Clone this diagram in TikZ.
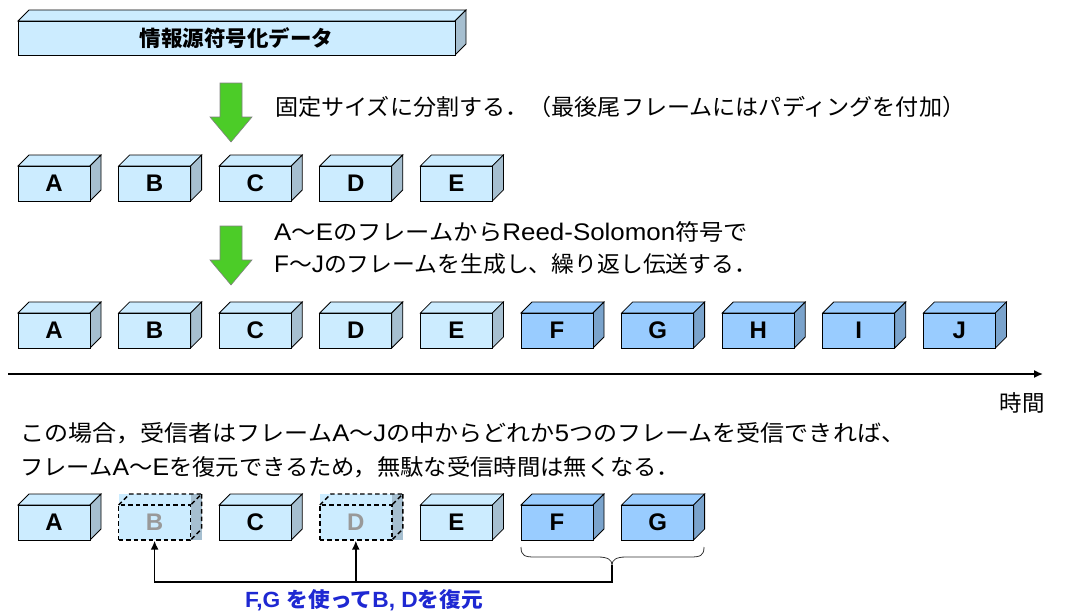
\documentclass[tikz,border=0pt]{standalone}
\usepackage{fontspec}
\usepackage{graphicx}
\setmainfont{Liberation Sans}
\newfontfamily\cjk{Noto Sans CJK JP}
\usetikzlibrary{arrows.meta}
\definecolor{lfront}{RGB}{204,236,255}
\definecolor{lside}{RGB}{166,191,208}
\definecolor{bfront}{RGB}{153,204,255}
\definecolor{bside}{RGB}{122,163,204}
\definecolor{agreen}{RGB}{76,204,40}
\definecolor{lblue}{RGB}{30,40,210}
\newcommand\jj[1]{{\fontsize{22.5}{24}\selectfont\cjk #1}}
\newcommand\fitw[2]{\resizebox{#1pt}{\height}{#2}}
\tikzset{
  cubefront/.style={draw=black,line width=0.8pt,minimum width=72pt,minimum height=35pt,inner sep=0pt,font=\fontsize{24}{26}\selectfont\bfseries},
  edge/.style={draw=black,line width=0.8pt},
  dashedge/.style={draw=black,line width=1.4pt,dash pattern=on 4.5pt off 3pt},
  jtext/.style={anchor=west,inner sep=0pt,font=\fontsize{24}{26}\selectfont},
  greenarrow/.style={fill=agreen,draw=gray,line width=0.6pt},
  connector/.style={draw=black,line width=1.5pt}
}
\newcommand\FrameCube[6]{%
  \filldraw[edge,fill=#5] (#2,#3) -- ++(11,-11) -- ++(72,0) -- ++(-11,11) -- cycle;
  \filldraw[edge,fill=#6] (#2+72,#3) -- ++(11,-11) -- ++(0,35) -- ++(-11,11) -- cycle;
  \node[cubefront,fill=#5] (#1) at (#2+36,#3+17.5) {#4};
}
\newcommand\DashCube[4]{%
  \fill[lfront] (#2,#3-11) rectangle (#2+72,#3+35);
  \fill[lside] (#2+72,#3-11) rectangle (#2+83,#3+35);
  \draw[dashedge] (#2,#3) -- ++(11,-11) -- ++(72,0) -- ++(-11,11);
  \draw[dashedge] (#2+83,#3-11) -- ++(0,35) -- ++(-11,11);
  \node[cubefront,dashedge,text=gray!80] (#1) at (#2+36,#3+17.5) {#4};
}
\begin{document}
\begin{tikzpicture}[x=1pt,y=-1pt]
\useasboundingbox (0,0) rectangle (1077,613);
% top bar
\filldraw[edge,fill=lfront] (18,21) -- ++(11,-11) -- ++(437,0) -- ++(-11,11) -- cycle;
\filldraw[edge,fill=lside] (455,21) -- ++(11,-11) -- ++(0,34) -- ++(-11,11) -- cycle;
\node[draw=black,line width=0.8pt,fill=lfront,minimum width=437pt,minimum height=34pt,inner sep=0pt,font=\fontsize{21.5}{23}\selectfont\cjk\bfseries] (bar) at (236.5,38) {情報源符号化データ};
% green arrows
\filldraw[greenarrow] (220,83) -- (242,83) -- (242,117) -- (252,117) -- (231,142) -- (210,117) -- (220,117) -- cycle;
\filldraw[greenarrow] (220,226) -- (242,226) -- (242,260) -- (252,260) -- (231,285) -- (210,260) -- (220,260) -- cycle;
\node[jtext] (t1) at (275,107) {\fitw{690}{\jj{固定サイズに分割する．（最後尾フレームにはパディングを付加）}}};
\node[jtext] (t2) at (274,232) {\fitw{474}{A\jj{～}E\jj{のフレームから}Reed-Solomon\jj{符号で}}};
\node[jtext] (t3) at (274,264) {\fitw{483}{F\jj{～}J\jj{のフレームを生成し、繰り返し伝送する．}}};
% row 1
\foreach \l [count=\i from 0] in {A,B,C,D,E} {
  \pgfmathsetmacro\xx{18+100.6*\i}
  \FrameCube{\l1}{\xx}{166}{\l}{lfront}{lside}
}
% row 2
\foreach \l [count=\i from 0] in {A,B,C,D,E} {
  \pgfmathsetmacro\xx{18+100.6*\i}
  \FrameCube{\l2}{\xx}{313}{\l}{lfront}{lside}
}
\foreach \l [count=\i from 5] in {F,G,H,I,J} {
  \pgfmathsetmacro\xx{18+100.6*\i}
  \FrameCube{\l2}{\xx}{313}{\l}{bfront}{bside}
}
% time axis
\coordinate (ax0) at (8,374);
\coordinate (ax1) at (1043,374);
\draw[line width=1.5pt,-{Latex[length=9pt,width=8pt]}] (ax0) -- (ax1);
\node[jtext,anchor=center] (time) at (1022,403) {\fitw{45}{\jj{時間}}};
\node[jtext] (t4) at (20,433) {\fitw{885}{\jj{この場合，受信者はフレーム}A\jj{～}J\jj{の中からどれか}5\jj{つのフレームを受信できれば、}}};
\node[jtext] (t5) at (20,467) {\fitw{660}{\jj{フレーム}A\jj{～}E\jj{を復元できるため，無駄な受信時間は無くなる．}}};
% row 3
\FrameCube{A3}{18}{505}{A}{lfront}{lside}
\DashCube{B3}{118.6}{505}{B}
\FrameCube{C3}{219.2}{505}{C}{lfront}{lside}
\DashCube{D3}{319.8}{505}{D}
\FrameCube{E3}{420.4}{505}{E}{lfront}{lside}
\FrameCube{F3}{521}{505}{F}{bfront}{bside}
\FrameCube{G3}{621.6}{505}{G}{bfront}{bside}
% brace
\coordinate (brL) at (521,547);
\coordinate (brR) at (704,547);
\coordinate (brtip) at (612,565);
\draw[line width=0.8pt,black!80] (brL) .. controls (521,556) and (525,557) .. (535,557) -- (598,557) .. controls (608,557) and (612,560) .. (brtip)
  .. controls (612,560) and (616,557) .. (626,557) -- (690,557) .. controls (700,557) and (704,556) .. (brR);
\coordinate (jn) at (612,582);
\draw[connector,-{Latex[length=9pt,width=8pt]}] (brtip) -- (jn) -| (B3.south);
\draw[connector,-{Latex[length=9pt,width=8pt]}] (D3.south |- jn) -- (D3.south);
\node[inner sep=0pt,text=lblue,font=\fontsize{22}{24}\selectfont\bfseries] (lab) at (364,600) {\fitw{238}{F,G {\fontsize{21}{22}\selectfont\cjk を使って}B, D{\fontsize{21}{22}\selectfont\cjk を復元}}};
\end{tikzpicture}
\end{document}
